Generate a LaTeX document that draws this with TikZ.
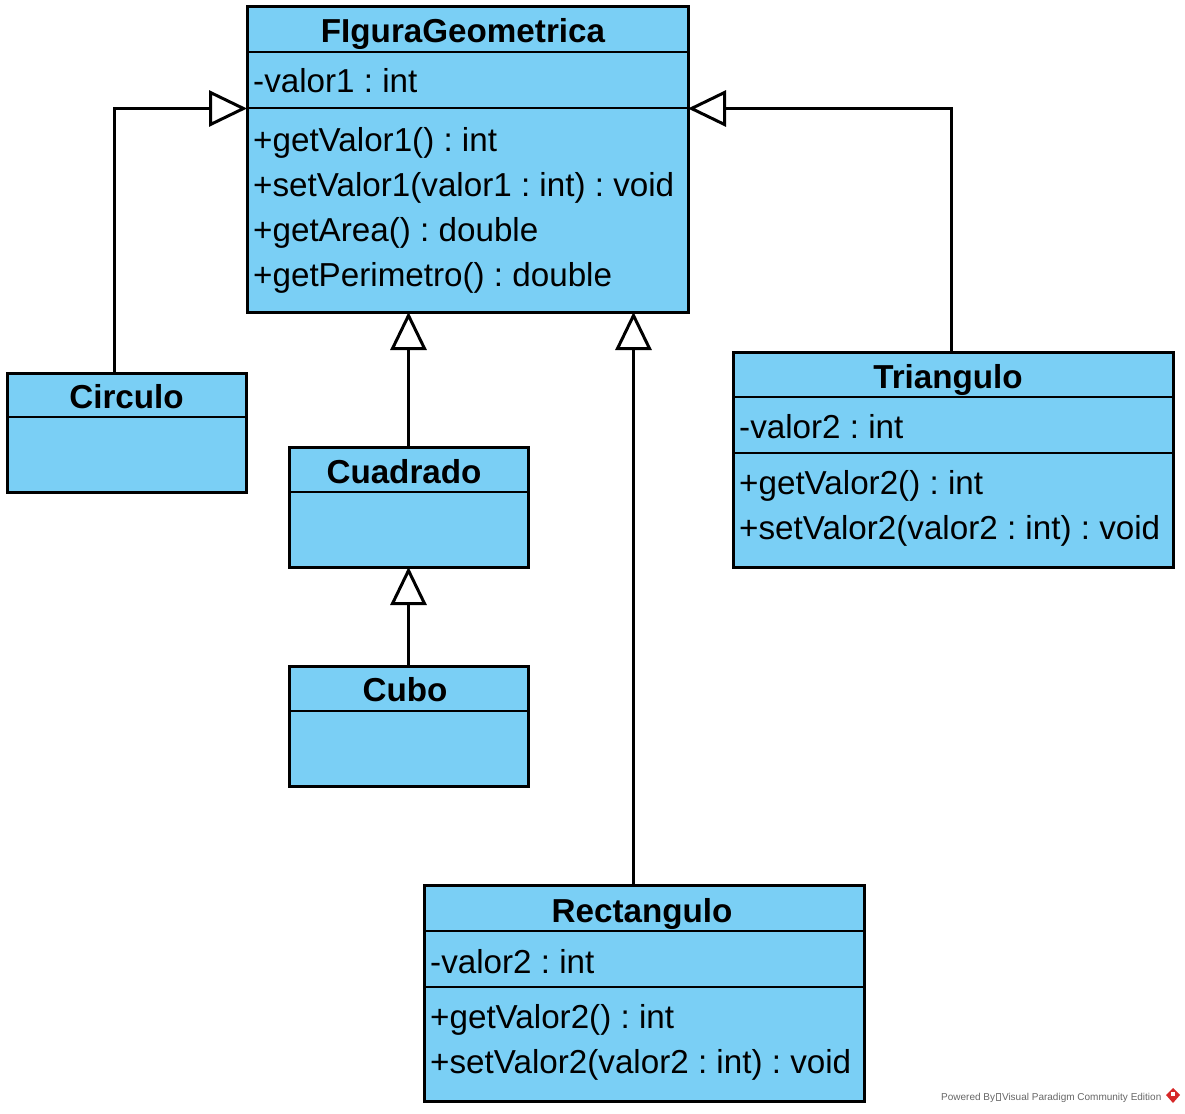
\documentclass[tikz,border=0pt]{standalone}
\usepackage{fontspec}
\setmainfont{Liberation Sans}
\usetikzlibrary{arrows.meta}
\frenchspacing

\definecolor{classfill}{RGB}{122,207,245}
\definecolor{vpred}{RGB}{214,40,40}

\tikzset{
  classbox/.style={draw=black, line width=3pt, fill=classfill, rectangle,
                   inner sep=0pt, outer sep=0pt, anchor=north west},
  divider/.style={draw=black, line width=2.8pt},
  classname/.style={font=\fontsize{33.2}{40}\selectfont\bfseries, anchor=base, inner sep=0pt},
  member/.style={font=\fontsize{33.2}{40}\selectfont, anchor=base west, inner sep=0pt},
  genarrow/.style={draw=black, line width=3pt,
                  -{Triangle[length=38pt, width=36pt, fill=white, line width=3pt]}},
  wmark/.style={font=\fontsize{10}{12}\selectfont, text=black!60, anchor=base west, inner sep=0pt}
}

\begin{document}
\begin{tikzpicture}[x=1pt, y=-1pt]
\useasboundingbox (0,0) rectangle (1185,1113);

% ---------- FIguraGeometrica ----------
\node[classbox, minimum width=441pt, minimum height=305pt] (fig) at (247,7) {};
\draw[divider] (247,52) -- (688,52);
\draw[divider] (247,108) -- (688,108);
\node[classname] (figname) at (463,43) {FIguraGeometrica};
\node[member] (figa1) at (253,93) {-valor1 : int};
\node[member] (figm1) at (253,151) {+getValor1() : int};
\node[member] (figm2) at (253,196) {+setValor1(valor1 : int) : void};
\node[member] (figm3) at (253,241) {+getArea() : double};
\node[member] (figm4) at (253,286) {+getPerimetro() : double};

% ---------- Circulo ----------
\node[classbox, minimum width=239pt, minimum height=119pt] (circ) at (7,373) {};
\draw[divider] (7,417) -- (246,417);
\node[classname] (circname) at (126.5,408) {Circulo};

% ---------- Cuadrado ----------
\node[classbox, minimum width=239pt, minimum height=120pt] (cuad) at (289,447) {};
\draw[divider] (289,492) -- (528,492);
\node[classname] (cuadname) at (404,483) {Cuadrado};

% ---------- Cubo ----------
\node[classbox, minimum width=239pt, minimum height=120pt] (cubo) at (289,666) {};
\draw[divider] (289,711) -- (528,711);
\node[classname] (cuboname) at (405,701) {Cubo};

% ---------- Triangulo ----------
\node[classbox, minimum width=440pt, minimum height=215pt] (tri) at (733,352) {};
\draw[divider] (733,397) -- (1173,397);
\draw[divider] (733,453) -- (1173,453);
\node[classname] (triname) at (948,388) {Triangulo};
\node[member] (tria1) at (739,438) {-valor2 : int};
\node[member] (trim1) at (739,494) {+getValor2() : int};
\node[member] (trim2) at (739,539) {+setValor2(valor2 : int) : void};

% ---------- Rectangulo ----------
\node[classbox, minimum width=440pt, minimum height=216pt] (rect) at (424,885) {};
\draw[divider] (424,931) -- (864,931);
\draw[divider] (424,987) -- (864,987);
\node[classname] (rectname) at (642,922) {Rectangulo};
\node[member] (recta1) at (430,973) {-valor2 : int};
\node[member] (rectm1) at (430,1028) {+getValor2() : int};
\node[member] (rectm2) at (430,1073) {+setValor2(valor2 : int) : void};

% ---------- generalisations ----------
\coordinate (circX) at (114.5,0);
\coordinate (triX) at (951.5,0);
\coordinate (cuadX) at (408.5,0);
\coordinate (rectX) at (633.5,0);
\coordinate (figY) at (0,108.5);

\draw[genarrow] (circ.north -| circX) |- (fig.west |- figY);
\draw[genarrow] (tri.north -| triX) |- (fig.east |- figY);
\draw[genarrow] (cuad.north -| cuadX) -- (fig.south -| cuadX);
\draw[genarrow] (cubo.north -| cuadX) -- (cuad.south -| cuadX);
\draw[genarrow] (rect.north -| rectX) -- (fig.south -| rectX);

% ---------- footer ----------
\node[wmark] (wm1) at (941,1100) {Powered By};
\node[draw=black!50, line width=0.5pt, minimum width=4pt, minimum height=7pt, inner sep=0pt,
      anchor=south west] (wmbox) at ([xshift=1pt]wm1.base east) {};
\node[wmark, anchor=base west] (wm2) at ([xshift=1pt]wm1.base east -| wmbox.east) {Visual Paradigm Community Edition};
\fill[vpred] (1173,1088) -- (1180,1095) -- (1173,1103) -- (1166,1095) -- cycle;
\fill[white] (1171,1092) rectangle (1175,1096);
\end{tikzpicture}
\end{document}
